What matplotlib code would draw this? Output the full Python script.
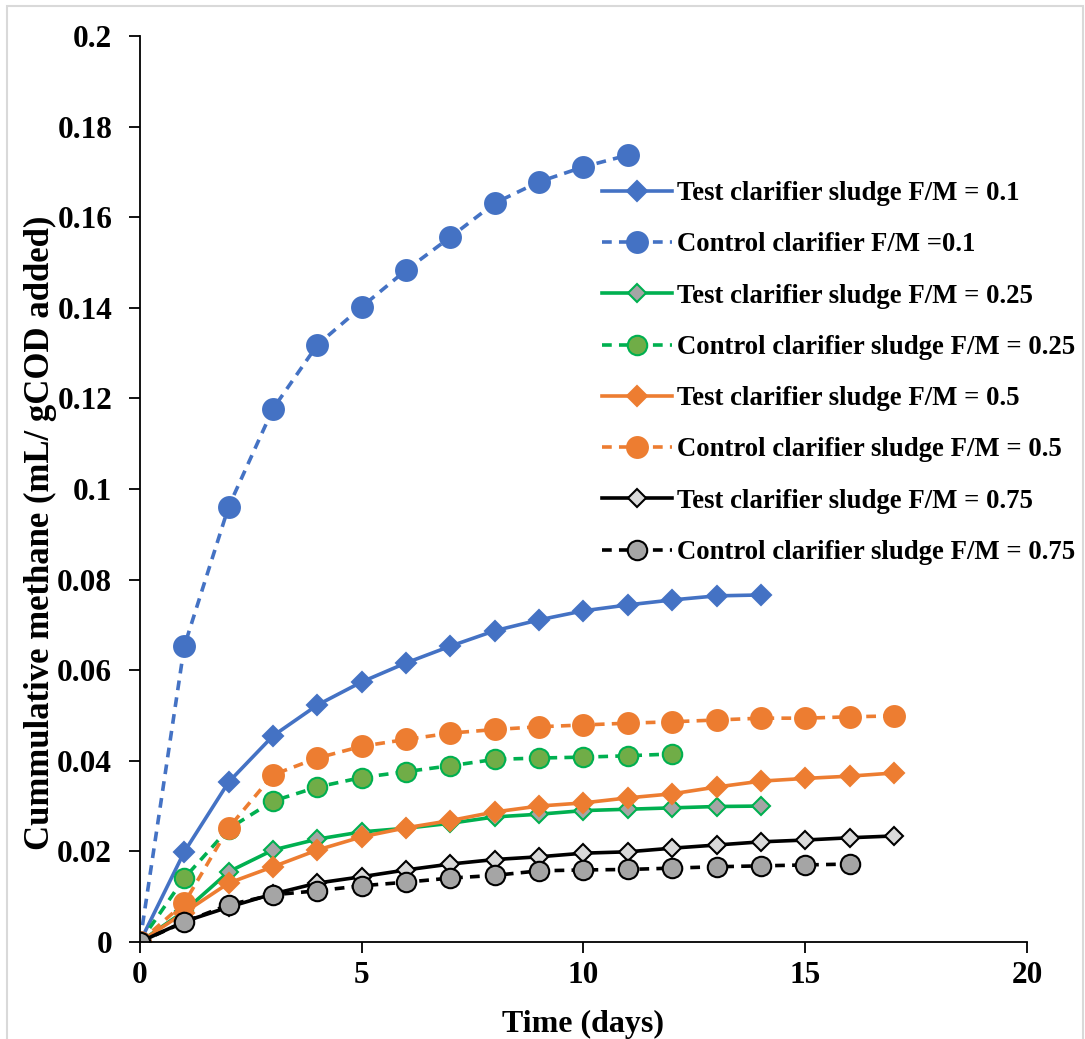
import numpy as np
import matplotlib.pyplot as plt
from matplotlib.patches import Rectangle

plt.rcParams['font.family'] = ['Liberation Serif', 'DejaVu Serif']
plt.rcParams['font.weight'] = 'bold'

# cumulative methane per day, one list per run
test_01 = [0, 0.0199, 0.0353, 0.0455, 0.0523, 0.0574, 0.0616, 0.0653, 0.0687,
           0.0711, 0.0731, 0.0744, 0.0755, 0.0764, 0.0766]
ctrl_01 = [0, 0.0653, 0.0961, 0.1177, 0.1318, 0.1402, 0.1483, 0.1556, 0.1631,
           0.1678, 0.1711, 0.1737]
test_025 = [0, 0.0068, 0.0155, 0.0203, 0.0227, 0.0243, 0.0251, 0.0262, 0.0276,
            0.0282, 0.0290, 0.0293, 0.0296, 0.0299, 0.0300]
ctrl_025 = [0, 0.0141, 0.0250, 0.0311, 0.0342, 0.0363, 0.0376, 0.0389, 0.0403,
            0.0406, 0.0408, 0.0411, 0.0415]
test_05 = [0, 0.0065, 0.0130, 0.0166, 0.0203, 0.0232, 0.0252, 0.0268, 0.0287,
           0.0300, 0.0307, 0.0318, 0.0327, 0.0342, 0.0355, 0.0361, 0.0366, 0.0373]
ctrl_05 = [0, 0.0086, 0.0252, 0.0369, 0.0406, 0.0432, 0.0447, 0.0461, 0.0469,
           0.0475, 0.0479, 0.0483, 0.0486, 0.0490, 0.0494, 0.0494, 0.0497, 0.0499]
test_075 = [0, 0.0045, 0.0077, 0.0106, 0.0130, 0.0144, 0.0159, 0.0172, 0.0182,
            0.0188, 0.0196, 0.0199, 0.0207, 0.0214, 0.0221, 0.0225, 0.0230, 0.0234]
ctrl_075 = [0, 0.0044, 0.0082, 0.0104, 0.0113, 0.0124, 0.0132, 0.0141, 0.0147,
            0.0157, 0.0159, 0.0160, 0.0163, 0.0166, 0.0168, 0.0170, 0.0172]

labels = ['Test clarifier sludge F/M = 0.1',
          'Control clarifier F/M =0.1',
          'Test clarifier sludge F/M = 0.25',
          'Control clarifier sludge F/M = 0.25',
          'Test clarifier sludge F/M = 0.5',
          'Control clarifier sludge F/M = 0.5',
          'Test clarifier sludge F/M = 0.75',
          'Control clarifier sludge F/M = 0.75']

blue = '#4472C4'
orange = '#ED7D31'
green = '#00B050'

# (data, line colour, linestyle, marker, face, edge, marker size)
series = [
    (test_01, blue, '-', 'D', blue, blue, 10),
    (ctrl_01, blue, '--', 'o', blue, blue, 15),
    (test_025, green, '-', 'D', '#A5A5A5', green, 9),
    (ctrl_025, green, '--', 'o', '#70AD47', green, 14),
    (test_05, orange, '-', 'D', orange, orange, 10),
    (ctrl_05, orange, '--', 'o', orange, orange, 15),
    (test_075, 'black', '-', 'D', '#D9D9D9', 'black', 9),
    (ctrl_075, 'black', '--', 'o', '#A5A5A5', 'black', 14),
]

fig = plt.figure(figsize=(10.85, 10.39), dpi=100)
ax = fig.add_axes([0.129, 0.0934, 0.8175, 0.872])

for (y, c, ls, m, fc, ec, ms), lab in zip(series, labels):
    x = np.arange(len(y))
    kw = dict(color=c, lw=2.6, marker=m, markersize=ms, markerfacecolor=fc,
              markeredgecolor=ec, markeredgewidth=1.5, label=lab)
    if ls == '--':
        kw['dashes'] = [2.7, 2.0]
    ax.plot(x, y, **kw)

ax.set_xlim(0, 20)
ax.set_ylim(0, 0.2)
ax.set_xticks([0, 5, 10, 15, 20])
ax.set_yticks(np.arange(0, 0.201, 0.02))
ax.set_yticklabels(['0', '0.02', '0.04', '0.06', '0.08', '0.1', '0.12',
                    '0.14', '0.16', '0.18', '0.2'])
ax.spines['top'].set_visible(False)
ax.spines['right'].set_visible(False)
for s in ['left', 'bottom']:
    ax.spines[s].set_linewidth(1.3)
ax.tick_params(direction='out', length=8, width=1.3, labelsize=22.5)
ax.tick_params(axis='y', pad=12)
ax.tick_params(axis='x', pad=6)
for t in ax.get_xticklabels() + ax.get_yticklabels():
    t.set_fontweight('bold')

ax.set_xlabel('Time (days)', fontsize=23, fontweight='bold', labelpad=14)
ax.set_ylabel('Cummulative methane (mL/ gCOD added)', fontsize=25,
              fontweight='bold')
ax.yaxis.set_label_coords(-0.094, 0.452)

ax.legend(loc='upper left', bbox_to_anchor=(0.545, 0.836),
          bbox_transform=fig.transFigure, frameon=False,
          prop={'size': 19.3, 'weight': 'bold'}, handlelength=2.6,
          handletextpad=0.2, labelspacing=0.98, borderaxespad=0)

fig.patches.append(Rectangle((0.006, -0.01), 0.992, 1.004, transform=fig.transFigure,
                             fill=False, edgecolor='#D9D9D9', lw=1.5))

fig.savefig('out.png', dpi=100)
